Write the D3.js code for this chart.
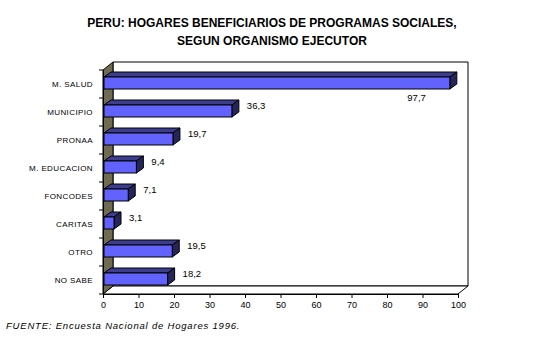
<!DOCTYPE html>
<html>
<head>
<meta charset="utf-8">
<script src="https://cdn.jsdelivr.net/npm/d3@7"></script>
<style>
  body { margin: 0; background: #fff; }
  text { font-family: Arial, "Liberation Sans", sans-serif; }
</style>
</head>
<body>
<div id="chart"></div>
<script>
// datos
var categories = ["M. SALUD", "MUNICIPIO", "PRONAA", "M. EDUCACION", "FONCODES", "CARITAS", "OTRO", "NO SABE"];
var values = [97.7, 36.3, 19.7, 9.4, 7.1, 3.1, 19.5, 18.2];
var xTicks = [0, 10, 20, 30, 40, 50, 60, 70, 80, 90, 100];
var titleLines = ["PERU: HOGARES BENEFICIARIOS DE PROGRAMAS SOCIALES,", "SEGUN ORGANISMO EJECUTOR"];
var source = "FUENTE: Encuesta Nacional de Hogares 1996.";

const width = 544;
const height = 350;

var svg = d3.select("#chart").append("svg")
  .attr("width", width)
  .attr("height", height);

svg.append("rect").attr("width", width).attr("height", height).attr("fill", "#fff");

// escalas
var x = d3.scaleLinear().domain([0, 100]).range([103, 458]);
var y = d3.scaleBand().domain(categories).range([70, 294]);

// profundidad 3D
var wdx = 10, wdy = -8;   // paredes
var bdx = 7, bdy = -5;    // barras

var x0 = x(0), x1 = x(100), y0 = y.range()[0], y1 = y.range()[1];

// pared de fondo
svg.append("path")
  .attr("d", d3.line()([[x0 + wdx, y0 + wdy], [x1 + wdx, y0 + wdy], [x1 + wdx, y1 + wdy], [x0 + wdx, y1 + wdy]]) + "Z")
  .attr("fill", "#fff").attr("stroke", "#000").attr("stroke-width", 1);

// piso
svg.append("path")
  .attr("d", d3.line()([[x0, y1], [x1, y1], [x1 + wdx, y1 + wdy], [x0 + wdx, y1 + wdy]]) + "Z")
  .attr("fill", "#fff").attr("stroke", "#000").attr("stroke-width", 1);

// pared lateral
svg.append("path")
  .attr("d", d3.line()([[x0, y0], [x0 + wdx, y0 + wdy], [x0 + wdx, y1 + wdy], [x0, y1]]) + "Z")
  .attr("fill", "#706b4f").attr("stroke", "#000").attr("stroke-width", 1);

// ejes
svg.append("g")
  .attr("transform", "translate(0," + y1 + ")")
  .call(d3.axisBottom(x).tickValues(xTicks).tickSize(4).tickSizeOuter(0).tickPadding(4))
  .call(g => g.select(".domain").attr("stroke", "#000"))
  .call(g => g.selectAll("text").attr("font-size", "9px").attr("font-family", "Arial, sans-serif").attr("fill", "#000"));

svg.append("g")
  .attr("transform", "translate(" + x0 + ",0)")
  .call(d3.axisLeft(y).tickSize(0).tickPadding(10))
  .call(g => g.select(".domain").attr("stroke", "#000"))
  .call(g => g.selectAll("text").attr("font-size", "8px").attr("letter-spacing", "0.4px").attr("font-family", "Arial, sans-serif").attr("fill", "#000"));

// marcas de categoria en los bordes
svg.append("g").selectAll("line")
  .data(categories.concat(["_end"]))
  .enter().append("line")
  .attr("x1", x0 - 4).attr("x2", x0)
  .attr("y1", d => d === "_end" ? y1 : y(d))
  .attr("y2", d => d === "_end" ? y1 : y(d))
  .attr("stroke", "#000");

// barras
var barH = 12, barOff = 7;
var bars = svg.append("g").selectAll("g")
  .data(categories.map((c, i) => ({ c: c, v: values[i] })))
  .enter().append("g");

bars.append("path") // cara superior
  .attr("d", d => {
    var a = x0 + 1, b = x(d.v), t = y(d.c) + barOff;
    return d3.line()([[a, t], [a + bdx, t + bdy], [b + bdx, t + bdy], [b, t]]) + "Z";
  })
  .attr("fill", "#3d3d8e").attr("stroke", "#000").attr("stroke-width", 1);

bars.append("path") // cara lateral
  .attr("d", d => {
    var b = x(d.v), t = y(d.c) + barOff;
    return d3.line()([[b, t], [b + bdx, t + bdy], [b + bdx, t + barH + bdy], [b, t + barH]]) + "Z";
  })
  .attr("fill", "#25255a").attr("stroke", "#000").attr("stroke-width", 1);

bars.append("rect") // cara frontal
  .attr("x", x0 + 1)
  .attr("y", d => y(d.c) + barOff)
  .attr("width", d => x(d.v) - x0 - 1)
  .attr("height", barH)
  .attr("fill", "#6262ff").attr("stroke", "#000").attr("stroke-width", 1);

// etiquetas de valor
var fmt = v => d3.format(".1f")(v).replace(".", ",");
bars.append("text")
  .attr("x", d => d.v > 90 ? x(d.v) - 24 : x(d.v) + bdx + 8)
  .attr("y", d => d.v > 90 ? y(d.c) + barOff + barH + 12 : y(d.c) + barOff + 4)
  .attr("text-anchor", d => d.v > 90 ? "end" : "start")
  .attr("font-size", "9.5px")
  .attr("fill", "#000")
  .text(d => fmt(d.v));

// titulo
svg.append("g").selectAll("text")
  .data(titleLines)
  .enter().append("text")
  .attr("x", 272)
  .attr("y", (d, i) => 27 + i * 18)
  .attr("text-anchor", "middle")
  .attr("font-size", "12px")
  .attr("font-weight", "bold")
  .attr("fill", "#000")
  .text(d => d);

// fuente
svg.append("text")
  .attr("x", 6)
  .attr("y", 329)
  .attr("font-size", "9.5px")
  .attr("font-style", "italic")
  .attr("letter-spacing", "0.8px")
  .attr("fill", "#000")
  .text(source);
</script>
</body>
</html>
